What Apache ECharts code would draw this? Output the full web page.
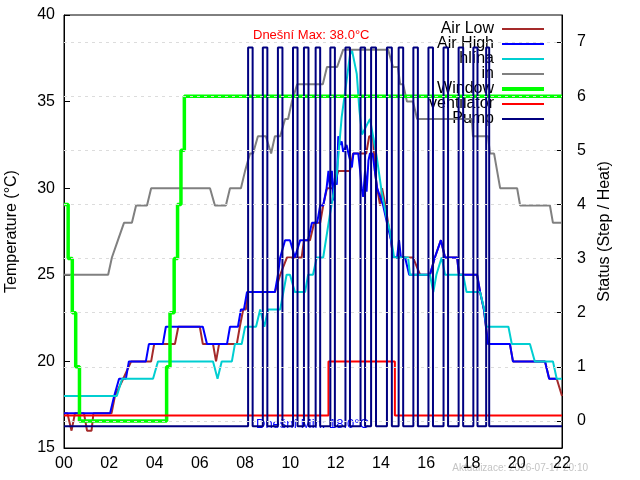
<!DOCTYPE html>
<html><head><meta charset="utf-8">
<script src="https://cdn.jsdelivr.net/npm/echarts@6/dist/echarts.min.js"></script>
<style>html,body{margin:0;padding:0;background:#fff}#c{width:640px;height:480px}</style>
</head><body><div id="c"></div>
<script>
const FONT = 'Liberation Sans, Arial, sans-serif';

// ---- axis ticks / labels ----
const xTickLabels = ['00','02','04','06','08','10','12','14','16','18','20','22'];
const tempTicks = [15, 20, 25, 30, 35, 40];
const statusTicks = [0, 1, 2, 3, 4, 5, 6, 7];

// ---- series names ----
const legendNames = ['Air Low', 'Air High', 'hlína', 'in', 'Window', 'ventilator', 'Pump'];

// ---- Air Low (°C) ----
const airLowTimes = ['00:00','00:09','00:20','00:29','00:53','01:01','01:13','01:18','02:06','02:15','02:37','02:58','03:51','03:59','04:54','05:03','06:00','06:08','06:35','06:43','06:51','07:38','07:46','07:55','08:02','08:08','09:19','09:33','09:51','10:30','10:36','10:52','11:03','11:19','11:27','11:37','11:53','12:07','12:38','12:46','12:59','13:21','13:29','13:39','13:44','13:50','13:58','14:03','14:07','14:12','14:19','14:27','14:32','15:25','15:44','16:10','16:23','16:39','16:50','17:22','17:27','18:15','18:23','18:33','18:44','19:42','19:50','21:15','21:26','21:46','22:00'];
const airLowValues = [17,17,16,17,17,16,16,17,17,18,19,20,20,21,21,22,22,21,21,20,21,21,22,23,23,24,24,25,26,26,27,27,28,28,29,30,30,31,31,32,32,32,33,33,31,30,29,30,30,29,28,27,26,26,25,25,26,27,26,26,25,25,24,23,21,21,20,20,19,19,18];

// ---- Air High (°C) ----
const airHighTimes = ['00:00','02:02','02:13','02:26','02:44','02:52','03:37','03:45','04:22','04:30','06:08','06:19','07:12','07:20','07:41','07:49','07:57','08:05','09:19','09:27','09:33','09:46','09:59','10:12','10:26','10:47','10:57','11:11','11:19','11:27','11:36','11:41','11:45','11:50','11:54','11:58','12:03','12:07','12:12','12:16','12:20','12:29','12:34','12:43','12:47','13:00','13:05','13:09','13:13','13:18','13:22','13:27','13:31','13:38','13:44','13:50','13:58','14:06','14:16','14:27','14:32','14:43','14:48','14:53','15:04','15:15','16:10','16:23','16:39','16:50','17:22','17:27','18:15','18:23','18:33','18:44','19:42','19:50','21:15','21:26','21:47'];
const airHighValues = [17,17,18,19,19,20,20,21,21,22,22,21,21,22,22,23,23,24,24,25,26,27,27,26,27,27,28,28,29,29,30,31,30,31,29.3,30.6,30.2,33,32.5,32.7,32.1,32.5,32,31.2,32,32,31,30,29.5,31,29.8,31.6,32,32,31,30,29.5,29,28,27,26,26,27,26,26,25,25,26,27,26,26,25,25,24,23,21,21,20,20,19,19];

// ---- hlína (°C) ----
const hlinaTimes = ['00:00','02:20','02:34','03:56','04:09','06:35','06:47','06:58','07:25','07:33','07:51','08:00','08:29','08:40','08:51','09:01','09:33','09:50','09:59','10:12','10:39','10:47','11:00','11:10','11:27','11:45','12:03','12:16','12:29','12:38','12:43','12:56','13:03','13:10','13:31','13:49','14:02','14:15','14:24','14:35','15:12','15:17','16:10','16:19','16:27','16:41','16:50','17:38','17:47','18:23','18:34','18:40','19:38','19:47','20:35','20:48','21:36','21:46','22:00'];
const hlinaValues = [18,18,19,19,20,20,19,20,20,21,21,22,22,23,22,23,23,25,25,24,24,25,25,26,26,28.5,30.8,34.1,36.2,37.7,38.0,36.6,34.5,33.1,34.0,31.8,29.8,28.3,27.5,26,26,25,25,24,25,26,25,25,24,24,23,22,22,21,21,20,20,19,19];

// ---- in (°C) ----
const inTimes = ['00:00','01:57','02:07','02:23','02:39','03:00','03:11','03:40','03:51','06:27','06:40','07:09','07:20','07:49','08:00','08:13','08:21','08:34','08:55','09:09','09:19','09:33','09:46','09:54','10:04','10:18','11:26','11:37','12:04','12:20','14:19','14:32','14:45','14:51','14:59','15:09','15:25','15:36','18:01','18:04','18:44','18:49','19:00','19:08','19:16','20:01','20:09','21:28','21:36','22:00'];
const inValues = [25,25,26,27,28,28,29,29,30,30,29,29,30,30,31,32,32,33,33,32,33,33,34,34,35,36,36,37,37,38,38,37,37,36,36,35,35,34,34,33,33,32,32,31,30,30,29,29,28,28];

// ---- Window (status, step) ----
const windowTimes = ['00:00','00:11','00:22','00:31','00:41','04:32','04:41','04:52','05:01','05:10','05:19','22:00'];
const windowValues = [4,3,2,1,0,1,2,3,4,5,6,6];

// ---- ventilator (status, step) ----
const ventTimes = ['00:00','11:41','14:37','22:00'];
const ventValues = [0.1, 1.1, 0.1, 0.1];

// ---- Pump (status, on/off pulses) ----
const pumpOnTimes  = ['08:08','08:47','09:27','10:07','10:36','11:07','11:46','12:26','13:06','13:34','14:16','14:47','15:26','16:06','16:46','17:26','18:05','18:39'];
const pumpOffTimes = ['08:20','08:59','09:39','10:19','10:48','11:19','11:58','12:38','13:18','13:47','14:29','14:59','15:38','16:18','16:58','17:38','18:16','18:47'];
const pumpLow = -0.1;
const pumpHigh = 6.9;
const dayStart = '00:00';
const dayEnd = '22:00';

// ---- texts ----
const maxLabel = 'Dnešní Max: 38.0°C';
const minLabel = 'Dnešní Min: 18.0°C';
const updatedLabel = 'Aktualizace: 2026-07-17 20:10';

function toHours(t) { const p = t.split(':').map(Number); return p[0] + p[1] / 60; }
function pairs(times, values) { return times.map((t, i) => [toHours(t), values[i]]); }

const pumpData = [[toHours(dayStart), pumpLow]];
pumpOnTimes.forEach((t, i) => {
  pumpData.push([toHours(t), pumpHigh]);
  pumpData.push([toHours(pumpOffTimes[i]), pumpLow]);
});
pumpData.push([toHours(dayEnd), pumpLow]);

function lineSeries(name, data, color, width, yIdx, step) {
  return {
    name, type: 'line', data, yAxisIndex: yIdx, step: step || false,
    symbol: 'none', showSymbol: false, silent: true,
    lineStyle: { color, width }, itemStyle: { color }, color
  };
}

const chart = echarts.init(document.getElementById('c'), null, { renderer: 'canvas' });
chart.setOption({
  animation: false,
  backgroundColor: '#ffffff',
  textStyle: { fontFamily: FONT },
  grid: { left: 64, right: 78, top: 15, bottom: 32, show: true, borderColor: '#000', borderWidth: 1, outerBoundsMode: 'none', containLabel: false },
  legend: {
    orient: 'vertical', right: 96, top: 21, align: 'right', padding: 0, itemGap: -1,
    itemWidth: 42, itemHeight: 12, selectedMode: false, z: 1,
    textStyle: { fontSize: 16, color: '#000', fontFamily: FONT, lineHeight: 14, padding: [0, 3, 0, 0] },
    data: legendNames.map((n) => ({ name: n, icon: n === 'Window' ? 'path://M0,0H42V4H0Z' : 'path://M0,0H42V2H0Z' }))
  },
  xAxis: {
    type: 'value', min: 0, max: 22, interval: 2,
    axisLine: { show: true, onZero: false, lineStyle: { color: '#000' } },
    axisTick: { show: false },
    splitLine: { show: false },
    axisLabel: { formatter: (v) => xTickLabels[Math.round(v / 2)], fontSize: 16, color: '#000', margin: 8, fontFamily: FONT }
  },
  yAxis: [
    {
      type: 'value', position: 'left', min: 15, max: 40, interval: 5,
      name: 'Temperature (°C)', nameLocation: 'middle', nameRotate: 90, nameGap: 44,
      nameTextStyle: { fontSize: 16, color: '#000', fontFamily: FONT },
      axisLine: { show: true, onZero: false, lineStyle: { color: '#000' } },
      axisTick: { show: true, inside: true, length: 6, lineStyle: { color: '#000' } },
      splitLine: { show: false },
      axisLabel: { fontSize: 16, color: '#000', margin: 9, fontFamily: FONT }
    },
    {
      type: 'value', position: 'right', min: -0.5, max: 7.5,
      name: 'Status (Step / Heat)', nameLocation: 'middle', nameRotate: 90, nameGap: 31,
      nameTextStyle: { fontSize: 16, color: '#000', fontFamily: FONT },
      axisLine: { show: true, onZero: false, lineStyle: { color: '#000' } },
      axisTick: { show: true, inside: true, length: 6, lineStyle: { color: '#000' }, customValues: statusTicks },
      splitLine: { show: false },
      axisLabel: { fontSize: 16, color: '#000', margin: 15, fontFamily: FONT, customValues: statusTicks }
    }
  ],
  graphic: [
    { type: 'text', left: 253, top: 29, z: 0, style: { text: maxLabel, fill: '#ff0000', font: '13px ' + FONT } },
    { type: 'text', left: 256, top: 418, z: 0, style: { text: minLabel, fill: '#0000ff', font: '13px ' + FONT } },
    { type: 'text', right: 52, top: 463, z: 0, style: { text: updatedLabel, fill: '#c4c4c4', font: '10px ' + FONT } }
  ],
  series: [
    {
      name: 'gridlines', type: 'line', yAxisIndex: 1, z: 1, symbol: 'none', silent: true,
      data: [[0, -5]], lineStyle: { width: 0 },
      markLine: {
        silent: true, symbol: 'none', label: { show: false },
        lineStyle: { type: [3, 4], color: '#dcdcdc', width: 1 },
        data: statusTicks.map((v) => ({ yAxis: v }))
      }
    },
    lineSeries('Air Low', pairs(airLowTimes, airLowValues), '#a52a2a', 2, 0),
    lineSeries('Air High', pairs(airHighTimes, airHighValues), '#0000ff', 2, 0),
    lineSeries('hlína', pairs(hlinaTimes, hlinaValues), '#00ced1', 2, 0),
    lineSeries('in', pairs(inTimes, inValues), '#808080', 2, 0),
    lineSeries('Window', pairs(windowTimes, windowValues), '#00ff00', 3.5, 1, 'end'),
    lineSeries('ventilator', pairs(ventTimes, ventValues), '#ff0000', 2, 1, 'end'),
    lineSeries('Pump', pumpData, '#000080', 2, 1, 'end')
  ]
});
</script>
</body></html>
